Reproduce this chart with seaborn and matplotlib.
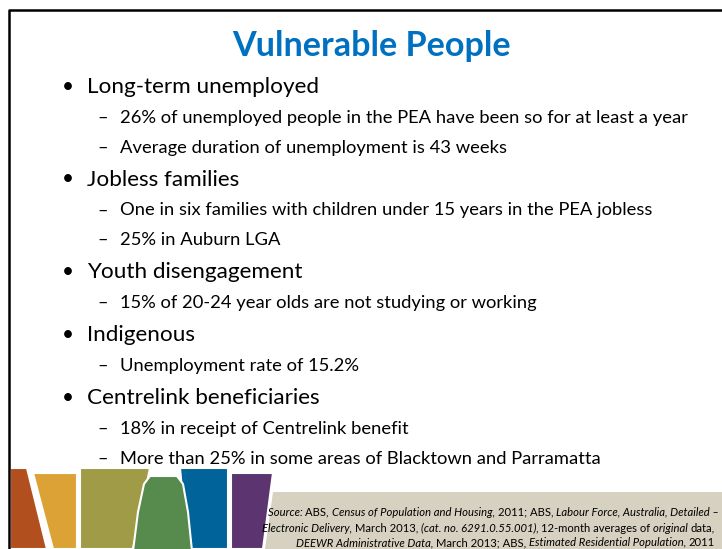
import matplotlib.pyplot as plt
import seaborn as sns
from matplotlib.patches import Polygon

sns.set_theme(style="white")
plt.rcParams['font.family'] = ['Lato', 'DejaVu Sans']

# slide content
title = "Vulnerable People"
headings = [
    "Long-term unemployed",
    "Jobless families",
    "Youth disengagement",
    "Indigenous",
    "Centrelink beneficiaries",
]
details = [
    ["26% of unemployed people in the PEA have been so for at least a year",
     "Average duration of unemployment is 43 weeks"],
    ["One in six families with children under 15 years in the PEA jobless",
     "25% in Auburn LGA"],
    ["15% of 20-24 year olds are not studying or working"],
    ["Unemployment rate of 15.2%"],
    ["18% in receipt of Centrelink benefit",
     "More than 25% in some areas of Blacktown and Parramatta"],
]
source_lines = [
    [("Source: ", True), ("ABS, ", False), ("Census of Population and Housing, ", True),
     ("2011; ABS, ", False), ("Labour Force, Australia, Detailed \u2013", True)],
    [("Electronic Delivery, ", True), ("March 2013, ", False),
     ("(cat. no. 6291.0.55.001), ", True), ("12-month averages of ", False),
     ("original ", True), ("data,", False)],
    [("DEEWR Administrative Data, ", True), ("March 2013; ABS, ", False),
     ("Estimated Residential Population, ", True), ("2011", False)],
]

# decorative footer bands
band_colors = ["#b24f1f", "#dca236", "#9f9b46", "#00649a", "#5b3470", "#568b4d"]
band_shapes = [
    [(10, 468), (27, 468), (47, 549), (10, 549)],
    [(33, 473), (77, 473), (77, 549), (53, 549)],
    [(80, 468), (150, 468), (133, 549), (80, 549)],
    [(180, 468), (228, 468), (228, 549), (186, 549), (183, 500)],
    [(231, 473), (273, 473), (263, 549), (231, 549)],
    [(133, 551), (138, 512), (144, 484), (150, 476), (177, 476), (183, 484),
     (188, 512), (192, 551)],
]
source_box = [(273, 492), (722, 492), (722, 549), (265, 549)]

fig = plt.figure(figsize=(7.22, 5.49), dpi=100)
ax = fig.add_axes([0, 0, 1, 1])
ax.set_xlim(0, 722)
ax.set_ylim(549, 0)
ax.axis("off")

# slide frame
ax.plot([9, 9, 722], [549, 10, 10], color="black", lw=1.8, solid_capstyle="butt")

ax.text(372, 46, title, ha="center", va="center", fontsize=24.6,
        fontweight="bold", color="#0070c0")

y = 87
for i, (head, subs) in enumerate(zip(headings, details)):
    if i > 0:
        y += 32
    ax.text(62, y, "\u2022", ha="left", va="center", fontsize=15, color="black")
    ax.text(87, y, head, ha="left", va="center", fontsize=16.2, color="black")
    for j, s in enumerate(subs):
        y += 31 if j == 0 else 29.5
        ax.text(97, y, "\u2013", ha="left", va="center", fontsize=13, color="black")
        ax.text(120, y, s, ha="left", va="center", fontsize=13.2, color="black")

for pts, c in zip(band_shapes, band_colors):
    ax.add_patch(Polygon(pts, closed=True, facecolor=c, edgecolor="white", lw=1.5))
ax.add_patch(Polygon(source_box, closed=True, facecolor="#d6d1c0", edgecolor="none"))

# source note, written segment by segment to mix italic and upright runs
fig.canvas.draw()
renderer = fig.canvas.get_renderer()
inv = ax.transData.inverted()
starts = [268, 262, 296]
ys = [512, 528, 543]
for line, x0, yy in zip(source_lines, starts, ys):
    x = x0
    for seg, ital in line:
        t = ax.text(x, yy, seg, ha="left", va="center", fontsize=8.1,
                    style="italic" if ital else "normal", color="black")
        bb = t.get_window_extent(renderer)
        x = inv.transform((bb.x1, bb.y0))[0]

fig.savefig("out.png", dpi=100)
